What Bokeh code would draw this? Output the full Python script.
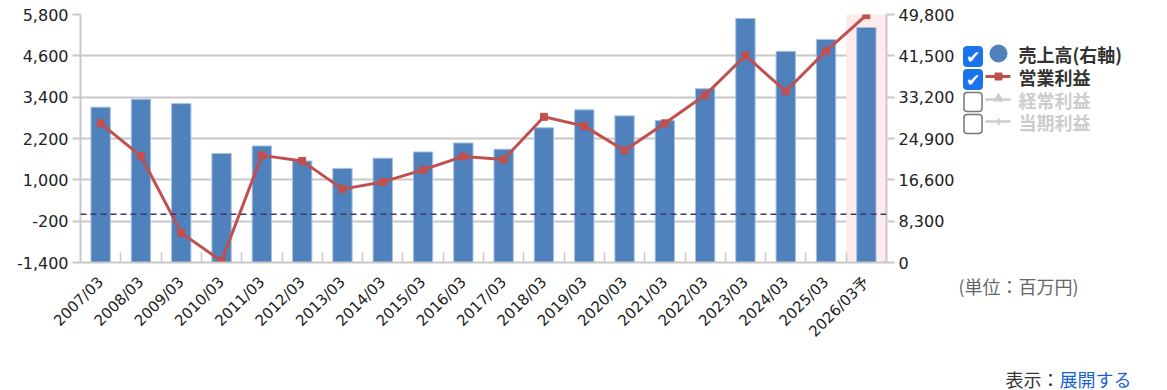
import math
from bokeh.plotting import figure
from bokeh.layouts import row
from bokeh.models import (Range1d, LinearAxis, FixedTicker, Span, BoxAnnotation,
                          NumeralTickFormatter, ColumnDataSource)
from bokeh.core.properties import value
from bokeh.embed import file_html
from bokeh.resources import INLINE

periods = ["2007/03", "2008/03", "2009/03", "2010/03", "2011/03", "2012/03",
           "2013/03", "2014/03", "2015/03", "2016/03", "2017/03", "2018/03",
           "2019/03", "2020/03", "2021/03", "2022/03", "2023/03", "2024/03",
           "2025/03", "2026/03予"]
sales = [31200, 32800, 31900, 21900, 23400, 20400, 18900, 20950, 22200, 24000,
         22750, 27050, 30650, 29450, 28500, 34900, 49000, 42400, 44800, 47200]
op_income = [2640, 1690, -540, -1360, 1710, 1550, 730, 940, 1290, 1680,
             1590, 2830, 2560, 1850, 2640, 3460, 4610, 3570, 4740, 5780]
left_ticks = [-1400, -200, 1000, 2200, 3400, 4600, 5800]
right_ticks = [0, 8300, 16600, 24900, 33200, 41500, 49800]
forecast_index = 19
legend_labels = ["売上高(右軸)", "営業利益", "経常利益", "当期利益"]
legend_checked = [True, True, False, False]
unit_text = "(単位：百万円)"
footer_label = "表示："
footer_link = "展開する"

xs = list(range(len(periods)))
src = ColumnDataSource(dict(x=xs, sales=sales, op=op_income))

GRID = "#c8c8c8"
NUM_FONT = "DejaVu Sans, Noto Sans CJK JP"
JP_FONT = "Noto Sans CJK JP"
BAR = "#4f81bd"
RED = "#c0504d"

MAIN_W, H = 957, 390

p = figure(width=MAIN_W, height=H, output_backend="svg", toolbar_location=None,
           x_range=Range1d(-0.5, len(periods) - 0.5),
           y_range=Range1d(left_ticks[0], left_ticks[-1]),
           min_border_left=80, min_border_right=70, min_border_top=14,
           min_border_bottom=128)
p.outline_line_color = None
p.extra_y_ranges = {"sales": Range1d(right_ticks[0], right_ticks[-1])}
try:
    p.frame_align = False
except Exception:
    pass

# forecast band
p.add_layout(BoxAnnotation(left=forecast_index - 0.5, right=forecast_index + 0.5,
                           fill_color="#fdeaea", fill_alpha=1.0, line_color=None,
                           level="underlay"))

# x axis
xa = p.xaxis[0]
xa.ticker = FixedTicker(ticks=xs, minor_ticks=[i + 0.5 for i in xs[:-1]])
xa.major_label_overrides = {i: s for i, s in enumerate(periods)}
xa.major_label_orientation = math.pi / 4
xa.major_label_text_font = NUM_FONT
xa.major_label_text_font_size = "15px"
xa.major_label_text_color = "#222"
xa.major_label_standoff = 17
xa.major_tick_in = 0
xa.major_tick_out = 0
xa.minor_tick_in = 10
xa.minor_tick_out = 0
xa.minor_tick_line_color = GRID
xa.minor_tick_line_width = 1.5
xa.axis_line_color = GRID
xa.axis_line_width = 2


def style_y(ax):
    ax.major_label_text_font = NUM_FONT
    ax.major_label_text_font_size = "16px"
    ax.major_label_text_color = "#222"
    ax.major_label_standoff = 4
    ax.major_tick_in = 0
    ax.major_tick_out = 8
    ax.major_tick_line_color = GRID
    ax.major_tick_line_width = 2
    ax.minor_tick_line_color = None
    ax.axis_line_color = GRID
    ax.axis_line_width = 2


ya = p.yaxis[0]
ya.ticker = FixedTicker(ticks=left_ticks)
ya.formatter = NumeralTickFormatter(format="0,0")
style_y(ya)

ra = LinearAxis(y_range_name="sales", ticker=FixedTicker(ticks=right_ticks),
                formatter=NumeralTickFormatter(format="0,0"))
style_y(ra)
p.add_layout(ra, "right")

p.xgrid.visible = False
p.ygrid.ticker = FixedTicker(ticks=left_ticks)
p.ygrid.grid_line_color = GRID
p.ygrid.grid_line_width = 2

# bars (right axis)
p.vbar(x="x", top="sales", bottom=0, width=0.48, source=src, y_range_name="sales",
       fill_color=BAR, line_color="#a9c0e0", line_width=1)

# zero line
p.add_layout(Span(location=0, dimension="width", line_color="#3f3566",
                  line_dash="6 4", line_width=1.5))

# operating income line
p.line(x="x", y="op", source=src, line_color=RED, line_width=3)
p.scatter(x="x", y="op", source=src, marker="square", size=7,
          fill_color=RED, line_color=RED)

# ---------------- legend panel (page-pixel coordinates) ----------------
q = figure(width=1167 - MAIN_W, height=H, output_backend="svg", toolbar_location=None,
           x_range=Range1d(MAIN_W, 1167), y_range=Range1d(H, 0),
           x_axis_type=None, y_axis_type=None, min_border=0)
q.outline_line_color = None
q.grid.visible = False
try:
    q.frame_align = False
except Exception:
    pass

box_top = [46, 69, 92, 114]
row_y = [53, 76, 99, 121]
chk_l = [b for b, c in zip(box_top, legend_checked) if c]
unchk_l = [b for b, c in zip(box_top, legend_checked) if not c]
q.quad(left=963, right=982, top=chk_l, bottom=[t + 20 for t in chk_l],
       fill_color="#1a73e8", line_color="#1a73e8", border_radius=3)
q.text(x=[972.5] * len(chk_l), y=[t + 10.5 for t in chk_l], text=["✔"] * len(chk_l),
       text_color="white", text_font=value("DejaVu Sans"), text_font_size="17px",
       text_font_style="bold", text_align="center", text_baseline="middle")
q.quad(left=963.5, right=981.5, top=unchk_l, bottom=[t + 19 for t in unchk_l],
       fill_color="white", line_color="#777777", line_width=1.5, border_radius=3)

# markers
q.scatter(x=[998], y=[row_y[0]], size=18, marker="circle", fill_color=BAR, line_color=None)
q.segment(x0=985, x1=1010, y0=[row_y[1]], y1=[row_y[1]], line_color=RED, line_width=3)
q.scatter(x=[998], y=[row_y[1]], size=7, marker="square", fill_color=RED, line_color=RED)
q.segment(x0=985, x1=1010, y0=row_y[2:], y1=row_y[2:], line_color="#cccccc", line_width=2.5)
q.scatter(x=[998], y=[row_y[2] - 1], size=9, marker="triangle", fill_color="#cccccc",
          line_color="#cccccc")
q.scatter(x=[998], y=[row_y[3]], size=7, marker="dash", angle=math.pi / 2,
          line_color="#cccccc", line_width=2)

q.text(x=[1018] * 4, y=row_y, text=legend_labels,
       text_color=["#333333", "#333333", "#cccccc", "#cccccc"],
       text_font=value(JP_FONT), text_font_size="18px", text_font_style="bold",
       text_align="left", text_baseline="middle")

q.text(x=[MAIN_W + 1], y=[285], text=[unit_text], text_color="#666666",
       text_font=value(JP_FONT), text_font_size="18px",
       text_align="left", text_baseline="middle")
q.text(x=[1005], y=[378], text=[footer_label], text_color="#333333",
       text_font=value(JP_FONT), text_font_size="18px",
       text_align="left", text_baseline="middle")
q.text(x=[1059], y=[378], text=[footer_link], text_color="#1a5fd0",
       text_font=value(JP_FONT), text_font_size="18px",
       text_align="left", text_baseline="middle")

layout = row(p, q, spacing=0)
open("out.html", "w").write(file_html(layout, INLINE))
